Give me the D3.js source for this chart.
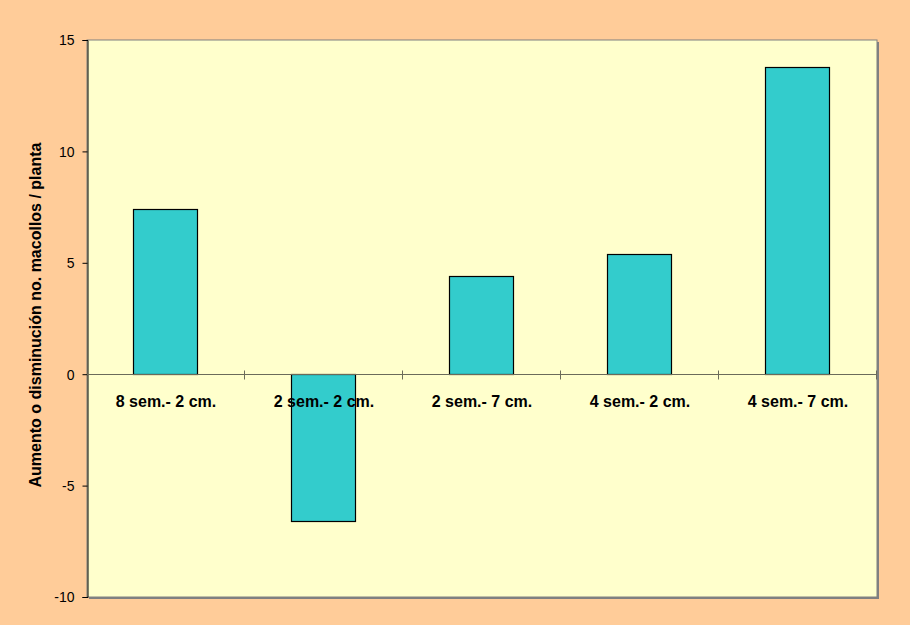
<!DOCTYPE html>
<html>
<head>
<meta charset="utf-8">
<script src="https://cdn.jsdelivr.net/npm/d3@7"></script>
<style>
  html, body { margin: 0; padding: 0; background: #FFCC99; }
  svg { display: block; }
  text { font-family: Arial, "Liberation Sans", sans-serif; fill: #000; }
</style>
</head>
<body>
<svg id="chart" width="910" height="625"></svg>
<script>
// Treatment categories and change in tiller count per plant
const categories = ["8 sem.- 2 cm.", "2 sem.- 2 cm.", "2 sem.- 7 cm.", "4 sem.- 2 cm.", "4 sem.- 7 cm."];
const values = [7.4, -6.6, 4.4, 5.4, 13.8];
const yTicks = [15, 10, 5, 0, -5, -10];
const yTitle = "Aumento o disminución no. macollos / planta";

const W = 910, H = 625;
const margin = { left: 87, top: 40, right: 33, bottom: 28 };
const pw = W - margin.left - margin.right;
const ph = H - margin.top - margin.bottom;

const svg = d3.select("#chart");
svg.append("rect").attr("width", W).attr("height", H).attr("fill", "#FFCC99");

const g = svg.append("g").attr("transform", `translate(${margin.left},${margin.top})`);

const x = d3.scaleBand().domain(categories).range([0, pw]).paddingInner(0.595).paddingOuter(0.2975);
const xBand = d3.scaleBand().domain(categories).range([0, pw]);
const y = d3.scaleLinear().domain([-10, 15]).range([ph, 0]);

// plot area with shadow on right/bottom
g.append("rect").attr("x", 2).attr("y", 2).attr("width", pw).attr("height", ph).attr("fill", "#808080");
g.append("rect").attr("width", pw).attr("height", ph).attr("fill", "#FFFFCC")
  .attr("stroke", "#808080").attr("stroke-width", 1);

// bars
g.selectAll("rect.bar").data(values).enter().append("rect")
  .attr("class", "bar")
  .attr("x", (d, i) => Math.round(x(categories[i])) - 0.5)
  .attr("width", Math.round(x.bandwidth()))
  .attr("y", d => Math.round(y(Math.max(0, d))) + 0.5)
  .attr("height", d => Math.round(Math.abs(y(d) - y(0))))
  .attr("fill", "#33CCCC")
  .attr("stroke", "#000").attr("stroke-width", 1.2);

// y axis
const yAxis = d3.axisLeft(y).tickValues(yTicks).tickSize(5).tickPadding(8).tickFormat(d => String(d));
const ya = g.append("g").attr("transform", "translate(0.5,0)").call(yAxis);
ya.select(".domain").attr("stroke", "#000");
ya.selectAll(".tick line").attr("stroke", "#000");
ya.selectAll("text").style("font-size", "14px").attr("dy", "0.35em");

// x axis along zero line with crossing ticks at category boundaries
const zeroY = Math.round(y(0)) + 0.5;
g.append("line").attr("x1", 0).attr("x2", pw).attr("y1", zeroY).attr("y2", zeroY)
  .attr("stroke", "#6b6b5a").attr("stroke-width", 1.2);
const bounds = categories.map(c => xBand(c)).concat([pw]);
g.selectAll("line.xt").data(bounds.slice(1)).enter().append("line")
  .attr("class", "xt")
  .attr("x1", d => Math.round(d) - 0.5).attr("x2", d => Math.round(d) - 0.5)
  .attr("y1", zeroY - 4).attr("y2", zeroY + 5)
  .attr("stroke", "#6b6b5a").attr("stroke-width", 1);

// category labels
g.selectAll("text.cat").data(categories).enter().append("text")
  .attr("class", "cat")
  .attr("x", d => xBand(d) + xBand.bandwidth() / 2)
  .attr("y", zeroY + 32)
  .attr("text-anchor", "middle")
  .style("font-size", "16px").style("font-weight", "bold")
  .text(d => d);

// y axis title
svg.append("text")
  .attr("transform", `translate(41,315) rotate(-90)`)
  .attr("text-anchor", "middle")
  .style("font-size", "16px").style("font-weight", "bold")
  .text(yTitle);
</script>
</body>
</html>
